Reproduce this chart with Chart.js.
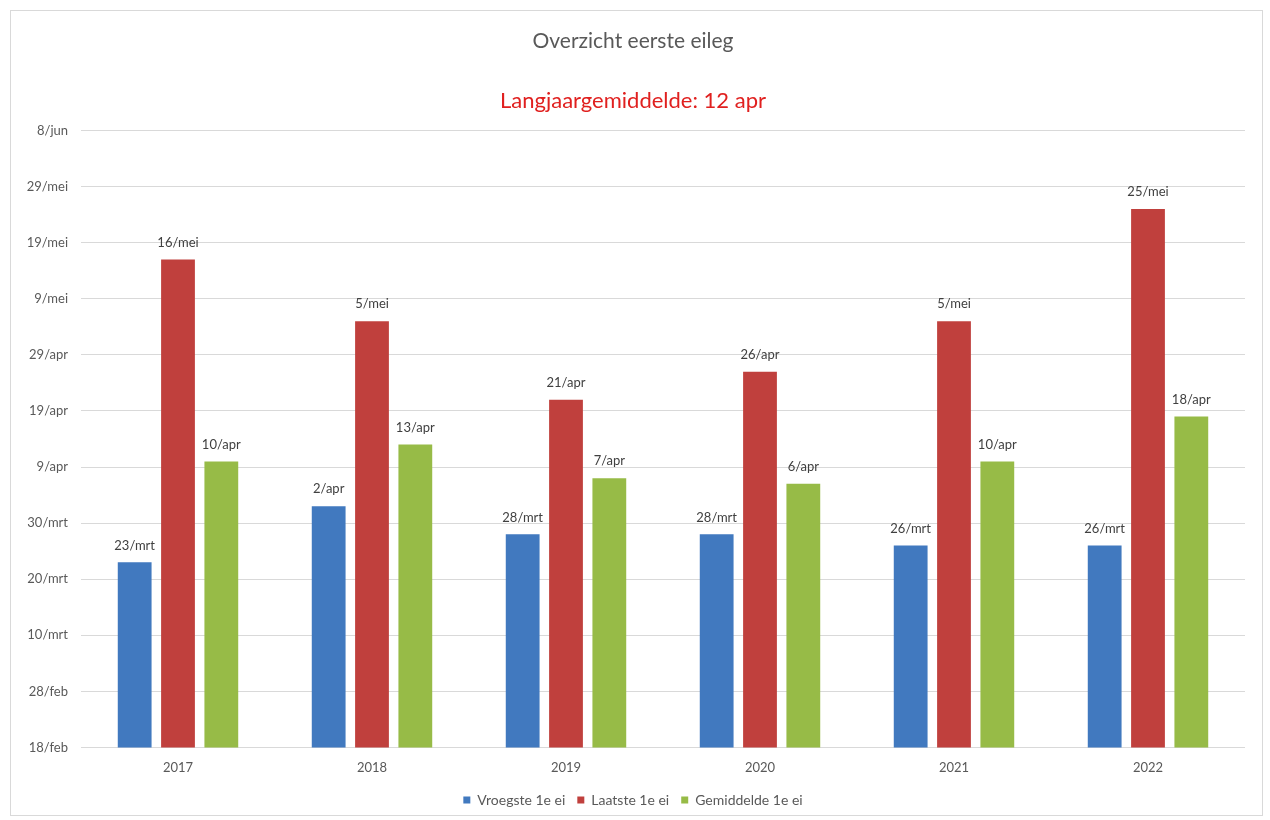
<!DOCTYPE html>
<html>
<head>
<meta charset="utf-8">
<script src="https://cdn.jsdelivr.net/npm/chart.js@4/dist/chart.umd.min.js"></script>
<style>
  html, body { margin: 0; background: #fff; overflow: hidden; }
  #frame { position: absolute; left: 10px; top: 10px; width: 1251px; height: 804px; border: 1px solid #d9d9d9; }
  #wrap { position: absolute; left: 11px; top: 11px; width: 1251px; height: 806px; }
</style>
</head>
<body>
<div id="frame"></div>
<div id="wrap"><canvas id="eilegChart"></canvas></div>
<script>
// Overzicht eerste eileg — datums als "dag/maand"

const jaren = ["2017", "2018", "2019", "2020", "2021", "2022"];
const vroegste = ["23/mrt", "2/apr", "28/mrt", "28/mrt", "26/mrt", "26/mrt"];
const laatste = ["16/mei", "5/mei", "21/apr", "26/apr", "5/mei", "25/mei"];
const gemiddelde = ["10/apr", "13/apr", "7/apr", "6/apr", "10/apr", "18/apr"];
const yTicks = ["18/feb", "28/feb", "10/mrt", "20/mrt", "30/mrt", "9/apr",
                "19/apr", "29/apr", "9/mei", "19/mei", "29/mei", "8/jun"];

const MAANDEN = ["jan", "feb", "mrt", "apr", "mei", "jun"];
const MAAND_START = [0, 31, 59, 90, 120, 151];

// "23/mrt" -> dagnummer in het jaar
function dag(s) {
  const [d, m] = s.split("/");
  return MAAND_START[MAANDEN.indexOf(m)] + parseInt(d, 10);
}

const yMin = dag(yTicks[0]);
const yMax = dag(yTicks[yTicks.length - 1]);
const FONT = "Lato, 'Open Sans', sans-serif";

const barLabels = {
  id: "barLabels",
  afterDatasetsDraw(chart) {
    const ctx = chart.ctx;
    ctx.save();
    ctx.font = "13px " + FONT;
    ctx.fillStyle = "#404040";
    ctx.textAlign = "center";
    ctx.textBaseline = "middle";
    chart.data.datasets.forEach((ds, i) => {
      chart.getDatasetMeta(i).data.forEach((bar, j) => {
        ctx.fillText(ds.labels[j], bar.x, bar.y - 17);
      });
    });
    ctx.restore();
  },
};

function ds(label, arr, color) {
  return {
    label,
    data: arr.map(dag),
    labels: arr,
    backgroundColor: color,
    borderWidth: 0,
    categoryPercentage: 0.67,
    barPercentage: 0.78,
  };
}

new Chart(document.getElementById("eilegChart"), {
  type: "bar",
  data: {
    labels: jaren,
    datasets: [
      ds("Vroegste 1e ei", vroegste, "#4179bf"),
      ds("Laatste 1e ei", laatste, "#c0403d"),
      ds("Gemiddelde 1e ei", gemiddelde, "#97bb47"),
    ],
  },
  options: {
    responsive: true,
    maintainAspectRatio: false,
    animation: false,
    layout: { padding: { top: 10, left: 10, right: 17, bottom: 0 } },
    plugins: {
      title: {
        display: true,
        text: "Overzicht eerste eileg",
        color: "#595959",
        font: { family: FONT, size: 21, weight: "normal" },
        padding: { top: 8, bottom: 10 },
      },
      subtitle: {
        display: true,
        text: "Langjaargemiddelde: 12 apr",
        color: "#e0201f",
        font: { family: FONT, size: 22, weight: "normal" },
        padding: { top: 24, bottom: 16 },
      },
      legend: {
        position: "bottom",
        labels: {
          boxWidth: 7,
          boxHeight: 7,
          padding: 12,
          color: "#595959",
          font: { family: FONT, size: 14 },
        },
      },
      tooltip: { enabled: false },
    },
    scales: {
      x: {
        grid: { display: false },
        border: { display: false },
        ticks: { color: "#595959", font: { family: FONT, size: 13 }, padding: 5 },
      },
      y: {
        min: yMin,
        max: yMax,
        afterFit: (s) => { s.width = 60; },
        grid: { color: "#d9d9d9", drawTicks: false },
        border: { display: false },
        ticks: {
          stepSize: 10,
          padding: 13,
          color: "#595959",
          font: { family: FONT, size: 13 },
          callback: (v) => yTicks[Math.round((v - yMin) / 10)],
        },
      },
    },
  },
  plugins: [barLabels],
});
</script>
</body>
</html>
